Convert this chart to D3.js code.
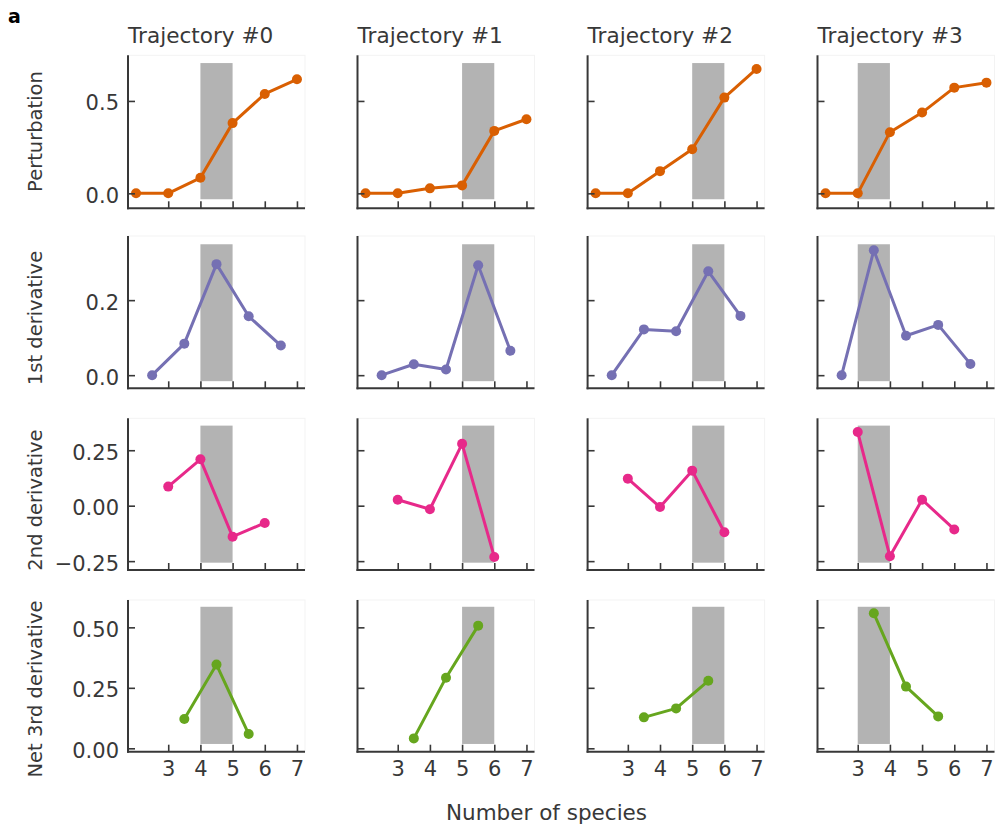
<!DOCTYPE html>
<html><head><meta charset="utf-8">
<script src="https://cdn.jsdelivr.net/npm/d3@7"></script>
<style>body{margin:0;background:#fff}svg{display:block}text{font-family:"DejaVu Sans",sans-serif}</style>
</head><body>
<svg id="chart" width="998" height="829"></svg>
<script>
// ---- data ----
const trajectories = ["Trajectory #0", "Trajectory #1", "Trajectory #2", "Trajectory #3"];
const rowLabels = ["Perturbation", "1st derivative", "2nd derivative", "Net 3rd derivative"];
const seriesColors = ["#d95f02", "#7570b3", "#e7298a", "#66a61e"];

const xPerturbation = [2, 3, 4, 5, 6, 7];
const xFirst = [2.5, 3.5, 4.5, 5.5, 6.5];
const xSecond = [3, 4, 5, 6];
const xThird = [3.5, 4.5, 5.5];

const perturbation = [
  [0, 0, 0.084, 0.380, 0.538, 0.617],
  [0, 0, 0.027, 0.043, 0.338, 0.401],
  [0, 0, 0.120, 0.239, 0.518, 0.673],
  [0, 0, 0.331, 0.437, 0.572, 0.599]
];
const firstDerivative = [
  [0, 0.084, 0.296, 0.157, 0.079],
  [0, 0.029, 0.015, 0.293, 0.065],
  [0, 0.122, 0.117, 0.277, 0.158],
  [0, 0.333, 0.105, 0.134, 0.030]
];
const secondDerivative = [
  [0.086, 0.209, -0.140, -0.078],
  [0.027, -0.016, 0.279, -0.231],
  [0.122, -0.006, 0.158, -0.120],
  [0.332, -0.228, 0.027, -0.107]
];
const netThirdDerivative = [
  [0.121, 0.346, 0.059],
  [0.041, 0.292, 0.507],
  [0.128, 0.165, 0.279],
  [0.558, 0.255, 0.132]
];

const shadeX = [[4, 5], [5, 6], [5, 6], [3, 4]];
const shadeY = [[-0.032, 0.705], [-0.016, 0.349], [-0.257, 0.361], [0.018, 0.585]];
const yDomains = [[-0.081, 0.747], [-0.035, 0.371], [-0.290, 0.394], [-0.014, 0.613]];
const xDomain = [1.75, 7.25];
const xTicks = [3, 4, 5, 6, 7];
const yTicks = [[0, 0.5], [0, 0.2], [-0.25, 0, 0.25], [0, 0.25, 0.5]];
const yTickLabels = [["0.0", "0.5"], ["0.0", "0.2"], ["\u22120.25", "0.00", "0.25"], ["0.00", "0.25", "0.50"]];
const xLabel = "Number of species";
const panelLetter = "a";

// ---- layout ----
const colLeft = [128, 357.5, 587.6, 817.5];
const rowTop = [55.3, 236, 418.3, 600];
const rowH = [153, 152.3, 151.7, 151.7];
const axW = 177;
const ylabelCenters = [131.5, 318, 500, 689];
const ink = "#383838";

const rowsX = [xPerturbation, xFirst, xSecond, xThird];
const rowsY = [perturbation, firstDerivative, secondDerivative, netThirdDerivative];

const svg = d3.select("#chart");

svg.append("text").attr("x", 8).attr("y", 23).attr("font-size", 19).attr("font-weight", "bold")
  .attr("fill", "#000").text(panelLetter);

for (let r = 0; r < 4; r++) {
  for (let c = 0; c < 4; c++) {
    const g = svg.append("g").attr("transform", `translate(${colLeft[c]},${rowTop[r]})`);
    const x = d3.scaleLinear().domain(xDomain).range([0, axW]);
    const y = d3.scaleLinear().domain(yDomains[r]).range([rowH[r], 0]);

    g.append("rect").attr("x", 0).attr("y", 0).attr("width", axW).attr("height", rowH[r])
      .attr("fill", "#fff").attr("stroke", "#f3f3f3").attr("stroke-width", 1);

    g.append("rect")
      .attr("x", x(shadeX[c][0])).attr("width", x(shadeX[c][1]) - x(shadeX[c][0]))
      .attr("y", y(shadeY[r][1])).attr("height", y(shadeY[r][0]) - y(shadeY[r][1]))
      .attr("fill", "#b3b3b3");

    const pts = rowsX[r].map((xv, i) => [xv, rowsY[r][c][i]]);
    g.append("path").datum(pts)
      .attr("d", d3.line().x(d => x(d[0])).y(d => y(d[1])))
      .attr("fill", "none").attr("stroke", seriesColors[r]).attr("stroke-width", 3)
      .attr("stroke-linejoin", "round");
    g.selectAll("circle.pt").data(pts).join("circle")
      .attr("cx", d => x(d[0])).attr("cy", d => y(d[1])).attr("r", 5)
      .attr("fill", seriesColors[r]);

    // x axis (inward ticks)
    const xa = g.append("g").attr("transform", `translate(0,${rowH[r]})`)
      .call(d3.axisBottom(x).tickValues(xTicks).tickSizeInner(-7).tickSizeOuter(0)
        .tickFormat(r === 3 ? d3.format("d") : () => ""));
    xa.select(".domain").remove();
    xa.selectAll(".tick line").attr("stroke", ink).attr("stroke-width", 1.6);
    xa.selectAll(".tick text").attr("font-size", 21).attr("fill", ink)
      .attr("y", 0).attr("dy", 24.5);

    // y axis (inward ticks), labels only on first column
    const ya = g.append("g")
      .call(d3.axisLeft(y).tickValues(yTicks[r]).tickSizeInner(-7).tickSizeOuter(0)
        .tickFormat((d, i) => c === 0 ? yTickLabels[r][i] : ""));
    ya.select(".domain").remove();
    ya.selectAll(".tick line").attr("stroke", ink).attr("stroke-width", 1.6);
    ya.selectAll(".tick text").attr("font-size", 21).attr("fill", ink)
      .attr("x", -9).attr("dy", 9).attr("text-anchor", "end");

    // spines
    g.append("line").attr("x1", 0).attr("x2", 0).attr("y1", 0).attr("y2", rowH[r] + 1)
      .attr("stroke", ink).attr("stroke-width", 2);
    g.append("line").attr("x1", -1).attr("x2", axW).attr("y1", rowH[r]).attr("y2", rowH[r])
      .attr("stroke", ink).attr("stroke-width", 2);

    if (r === 0) {
      svg.append("text").attr("x", colLeft[c]).attr("y", 43).attr("font-size", 21.6)
        .attr("fill", ink).text(trajectories[c]);
    }
  }
  svg.append("text")
    .attr("transform", `translate(42,${ylabelCenters[r]}) rotate(-90)`)
    .attr("text-anchor", "middle").attr("font-size", 19.5).attr("fill", ink)
    .text(rowLabels[r]);
}

svg.append("text").attr("x", 546.5).attr("y", 820).attr("text-anchor", "middle")
  .attr("font-size", 21.5).attr("fill", ink).text(xLabel);
</script>
</body></html>
